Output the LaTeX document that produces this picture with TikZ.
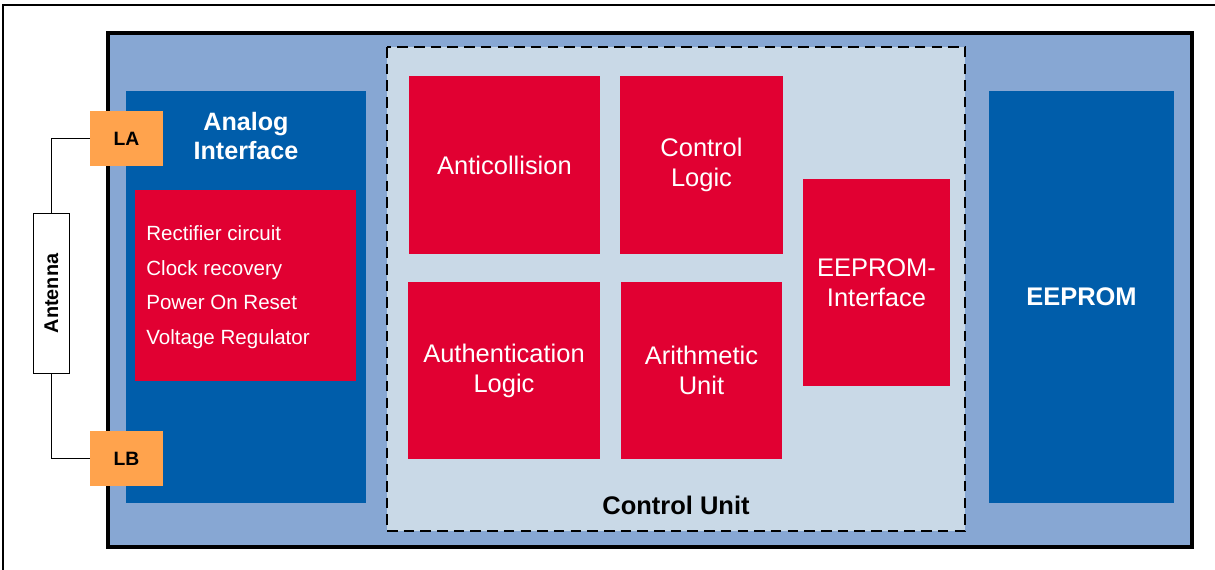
\documentclass[tikz,border=0pt]{standalone}
\usepackage{fontspec}
\setmainfont{Liberation Sans}
\definecolor{chipblue}{HTML}{87A7D3}
\definecolor{darkblue}{HTML}{005DAA}
\definecolor{redbox}{HTML}{E10032}
\definecolor{orangepad}{HTML}{FFA34D}
\definecolor{cufill}{HTML}{C9D9E7}
\tikzset{
  blk/.style={draw=none, inner sep=0pt, anchor=north west},
  redblk/.style={fill=redbox, text=white, font=\fontsize{14.5}{17}\selectfont, align=center},
  padbox/.style={fill=orangepad, font=\bfseries\fontsize{11}{13}\selectfont, inner sep=0pt},
  wire/.style={draw=black, line width=0.8pt},
}
\newcommand{\rbox}[6]{\node[redblk, minimum width=#3*0.02cm, minimum height=#4*0.02cm, inner sep=0pt] (#5) at ({(#1+#3/2)*0.02cm},{-(#2+#4/2)*0.02cm}) {#6};}
\begin{document}
\begin{tikzpicture}[x=0.02cm,y=-0.02cm]
\useasboundingbox (0,0) rectangle (1215,570);
% outer frame
\draw[line width=1.2pt] (3,570) -- (3,5) -- (1215,5);
% chip
\path[fill=chipblue, draw=black, line width=1.8pt] (108,33) rectangle (1192,547);
% analog interface
\fill[darkblue] (126,91) rectangle (366,503);
\node[text=white, font=\bfseries\fontsize{14.3}{17}\selectfont, align=center] (ai) at (246,136) {Analog\\Interface};
\node[fill=redbox, minimum width=221*0.02cm, minimum height=191*0.02cm, inner sep=0pt] (rect) at (245.5,285.5) {};
\node[text=white, font=\fontsize{11.7}{19.8}\selectfont, align=left, anchor=north west, inner sep=0pt] (rectxt) at (146,225) {Rectifier circuit\\Clock recovery\\Power On Reset\\Voltage Regulator};
% pads
\node[padbox, minimum width=73*0.02cm, minimum height=55*0.02cm] (la) at (126.5,138.5) {LA};
\node[padbox, minimum width=73*0.02cm, minimum height=55*0.02cm] (lb) at (126.5,458.5) {LB};
% antenna
\node[draw=black, fill=white, line width=0.8pt, minimum width=36*0.02cm, minimum height=160*0.02cm, inner sep=0pt] (ant) at (51.5,293.5) {};
\node[rotate=90, font=\bfseries\fontsize{11.3}{13}\selectfont] (anttxt) at (ant.center) {Antenna};
\draw[wire] (la.west) -| (ant.north);
\draw[wire] (lb.west) -| (ant.south);
% control unit
\path[fill=cufill, draw=black, dash pattern=on 6pt off 3.5pt, line width=0.9pt] (387,47) rectangle (965,531);
\node[font=\bfseries\fontsize{14.5}{17}\selectfont] (cu) at (676,505) {Control Unit};
\rbox{409}{76}{191}{178}{anti}{Anticollision}
\rbox{620}{76}{163}{178}{ctrl}{Control\\Logic}
\rbox{408}{282}{192}{177}{auth}{Authentication\\Logic}
\rbox{621}{282}{161}{177}{arith}{Arithmetic\\Unit}
\rbox{803}{179}{147}{207}{eei}{EEPROM-\\Interface}
% eeprom
\node[fill=darkblue, text=white, font=\bfseries\fontsize{14.5}{17}\selectfont, minimum width=185*0.02cm, minimum height=412*0.02cm, inner sep=0pt] (ee) at (1081.5,297) {EEPROM};
\end{tikzpicture}
\end{document}
